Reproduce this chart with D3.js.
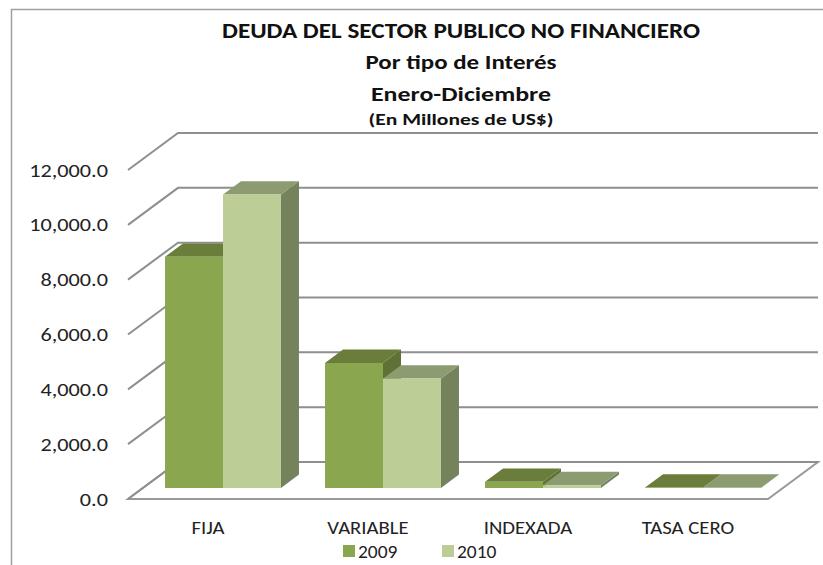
<!DOCTYPE html>
<html>
<head>
<meta charset="utf-8">
<script src="https://d3js.org/d3.v7.min.js"></script>
<style type="text/css">
body {margin:0;background:white;}
svg {display:block;font-family:Calibri, Carlito, Lato, sans-serif;}
</style>
</head>
<body>
<svg id="chart" width="823" height="565"></svg>
<script type="text/javascript">
	var categories = ["FIJA", "VARIABLE", "INDEXADA", "TASA CERO"];
	var years = ["2009", "2010"];
	var values2009 = [8430, 4560, 220, 15];
	var values2010 = [10700, 3990, 100, 8];
	var yTicks = [0, 2000, 4000, 6000, 8000, 10000, 12000];
	var titleLines = ["DEUDA DEL SECTOR PUBLICO NO FINANCIERO", "Por tipo de Interés", "Enero-Diciembre", "(En Millones de US$)"];

	// colours per year: front, top, side
	var faces = {
		"2009": {front:"#8aa64e", top:"#6a7d3a", side:"#5f7134"},
		"2010": {front:"#bccd96", top:"#8c9b70", side:"#74835c"}
	};

	var svg = d3.select("#chart");

	// oblique depth of the floor
	var depthX = 50, depthY = -37;

	var x = d3.scaleBand().domain(categories).range([128, 768]);
	var xYear = d3.scaleBand().domain(years).range([0, x.bandwidth()]).paddingOuter(0.38);
	var y = d3.scaleLinear().domain([0, 12000]).range([499, 170]);

	function proj(px, v, d) {
		return [px + d * depthX, y(v) + d * depthY];
	}

	// text in the picture is wider than Lato, so stretch it a bit
	function stretch(sel, k) {
		sel.each(function() {
			var w = this.getComputedTextLength();
			d3.select(this).attr("textLength", w * k).attr("lengthAdjust", "spacingAndGlyphs");
		});
	}

	// outer border
	svg.append("rect").attr("x", 11.5).attr("y", 9.5).attr("width", 830).attr("height", 570)
		.attr("fill", "white").attr("stroke", "#a0a0a0").attr("stroke-width", 1.5);

	// title
	var titleY = [38, 69, 101, 125];
	var titleSize = [22, 21, 21, 16];
	var titleW = [478, 191, 180, 185];
	titleLines.forEach(function(t, i) {
		svg.append("text").attr("x", 461).attr("y", titleY[i])
			.attr("text-anchor", "middle").attr("font-weight", "bold")
			.attr("font-size", titleSize[i]).attr("fill", "#111")
			.attr("textLength", titleW[i]).attr("lengthAdjust", "spacingAndGlyphs")
			.text(t);
	});

	// floor
	var floorPts = [proj(128, 0, 0), proj(768, 0, 0), proj(768, 0, 1), proj(128, 0, 1)];
	svg.append("polygon").attr("points", floorPts.map(function(p){return p.join(",");}).join(" "))
		.attr("fill", "white").attr("stroke", "#999").attr("stroke-width", 2);

	// gridlines: side slant + back wall
	yTicks.forEach(function(v) {
		var a = proj(128, v, 0), b = proj(128, v, 1), c = proj(768, v, 1);
		svg.append("polyline").attr("points", [a, b, c].map(function(p){return p.join(",");}).join(" "))
			.attr("fill", "none").attr("stroke", "#8f8f8f").attr("stroke-width", 2);
	});

	// y labels
	svg.selectAll(".ylab").data(yTicks).enter().append("text")
		.attr("x", 108).attr("y", function(d){return y(d);})
		.attr("dy", "0.35em").attr("text-anchor", "end")
		.attr("font-size", 19).attr("fill", "#222")
		.text(function(d){return d3.format(",.1f")(d);})
		.call(stretch, 1.17);

	// bars
	var d0 = 0.3, d1 = 0.66;
	var bars = [];
	categories.forEach(function(c, i) {
		bars.push({cat:c, year:"2009", v:values2009[i]});
		bars.push({cat:c, year:"2010", v:values2010[i]});
	});

	function poly(g, pts, fill) {
		g.append("polygon").attr("points", pts.map(function(p){return p.join(",");}).join(" "))
			.attr("fill", fill);
	}

	bars.forEach(function(b) {
		var g = svg.append("g");
		var x0 = x(b.cat) + xYear(b.year), x1 = x0 + xYear.bandwidth();
		var f = faces[b.year];
		poly(g, [proj(x1, 0, d0), proj(x1, 0, d1), proj(x1, b.v, d1), proj(x1, b.v, d0)], f.side);
		poly(g, [proj(x0, b.v, d0), proj(x1, b.v, d0), proj(x1, b.v, d1), proj(x0, b.v, d1)], f.top);
		poly(g, [proj(x0, 0, d0), proj(x1, 0, d0), proj(x1, b.v, d0), proj(x0, b.v, d0)], f.front);
	});

	// category labels
	svg.selectAll(".xlab").data(categories).enter().append("text")
		.attr("x", function(d){return x(d) + x.bandwidth() / 2;}).attr("y", 534)
		.attr("text-anchor", "middle").attr("font-size", 18).attr("fill", "#222")
		.text(function(d){return d;})
		.call(stretch, 1.15);

	// legend
	var legX = [343, 442];
	years.forEach(function(yr, i) {
		svg.append("rect").attr("x", legX[i]).attr("y", 545).attr("width", 12).attr("height", 12)
			.attr("fill", faces[yr].front);
		svg.append("text").attr("x", legX[i] + 15).attr("y", 558)
			.attr("font-size", 18).attr("fill", "#222").text(yr)
			.call(stretch, 1.08);
	});
</script>
</body>
</html>
